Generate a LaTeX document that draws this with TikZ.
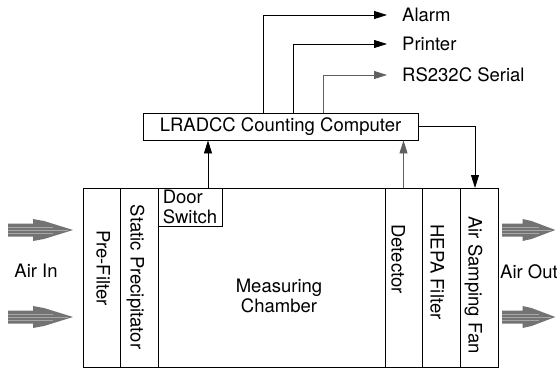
\documentclass[tikz,border=0pt]{standalone}
\usepackage{fontspec}
\setmainfont{TeX Gyre Heros}
\usetikzlibrary{arrows.meta, positioning}
\tikzset{
  cell/.style={draw, line width=0.8pt, inner sep=0pt, outer sep=0pt, minimum height=179pt},
  vlabel/.style={rotate=-90, inner sep=1pt, text height=13pt, text depth=0pt},
  outlabel/.style={anchor=west, inner sep=2pt, text height=13pt, text depth=0pt},
  sig/.style={-{Triangle[length=13pt,width=8pt]}, line width=0.8pt},
  airarrow/.pic={
    \fill[black!55] (0,-6.5) -- (25,-6.5) -- (25,-11) -- (36,-9) -- (65,0)
      -- (36,9) -- (25,11) -- (25,6.5) -- (0,6.5) -- cycle;
    \draw[black!35, line width=0.7pt] (0,-3) -- (45,-3) (0,0) -- (60,0) (0,3) -- (45,3);
  }
}

\begin{document}
\begin{tikzpicture}[x=1pt, y=-1pt, font=\fontsize{18.5}{19.5}\selectfont]
  \useasboundingbox (0,0) rectangle (557,370);
  % the unit
  \node[cell, minimum width=37pt] (prefilter) at (101.5,277.5) {};
  \node[cell, minimum width=38pt, right=0pt of prefilter] (static) {};
  \node[cell, minimum width=227pt, right=0pt of static] (chamber) {};
  \node[cell, minimum width=37pt, right=0pt of chamber] (detector) {};
  \node[cell, minimum width=38pt, right=0pt of detector] (hepa) {};
  \node[cell, minimum width=38pt, right=0pt of hepa] (fan) {};
  \node[cell, minimum width=64pt, minimum height=38pt, anchor=north west, align=left] (doorsw) at (chamber.north west) {Door\\Switch};

  \node[vlabel] (tpre) at (103,268) {Pre-Filter};
  \node[vlabel] (tstat) at (137,277) {Static Precipitator};
  \node[align=center, inner sep=1pt] (tcham) at (279,296) {Measuring\\Chamber};
  \node[vlabel] (tdet) at (398,259) {Detector};
  \node[vlabel] (thepa) at (437,272) {HEPA Filter};
  \node[vlabel] (tfan) at (475,285) {Air Samping Fan};

  % computer and outputs
  \node[draw, line width=0.8pt, minimum width=275pt, minimum height=27pt, inner sep=0pt] (comp) at (280.5,126.5) {LRADCC Counting Computer};
  \node[outlabel] (alarm) at (400,15) {Alarm};
  \node[outlabel] (printer) at (400,44) {Printer};
  \node[outlabel] (serial) at (400,75) {RS232C Serial};

  \draw[sig, shorten >=13pt] (263,0 |- comp.north) |- (alarm.west);
  \draw[sig, shorten >=13pt] (293,0 |- comp.north) |- (printer.west);
  \draw[sig, shorten >=13pt, gray!75!black] (323,0 |- comp.north) |- (serial.west);

  \coordinate (dsw) at ([xshift=18pt]doorsw.north);
  \draw[sig] (dsw) -- (dsw |- comp.south);
  \draw[sig, gray!75!black] (detector.north) -- (detector.north |- comp.south);
  \draw[sig] (comp.east) -| ([xshift=-4pt]fan.north);

  % air flow
  \pic at (8,230) {airarrow};
  \pic at (8,317) {airarrow};
  \pic[xscale=0.82] at (502,230) {airarrow};
  \pic[xscale=0.82] at (502,317) {airarrow};
  \node[inner sep=1pt] (airin) at (36,271) {Air In};
  \node[anchor=west, inner sep=1pt] (airout) at (499,272) {Air Out};
\end{tikzpicture}
\end{document}
